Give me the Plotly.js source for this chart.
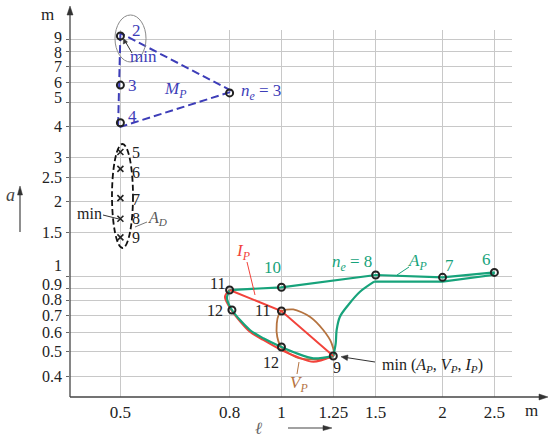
<!DOCTYPE html>
<html><head><meta charset="utf-8">
<script src="https://cdn.plot.ly/plotly-3.0.1.min.js"></script>
<style>html,body{margin:0;padding:0;background:#fff}#chart{width:550px;height:442px}</style>
</head><body><div id="chart"></div>
<script>
// ---------- data ----------
const xTickVals = [0.5, 0.8, 1, 1.25, 1.5, 2, 2.5];
const xTickText = ['0.5', '0.8', '1', '1.25', '1.5', '2', '2.5'];
const yTickVals = [0.4, 0.5, 0.6, 0.7, 0.8, 0.9, 1, 1.5, 2, 2.5, 3, 4, 5, 6, 7, 8, 9];
const yTickText = ['0.4', '0.5', '0.6', '0.7', '0.8', '0.9', '1', '1.5', '2', '2.5', '3', '4', '5', '6', '7', '8', '9'];

// M_P region (blue dashed outline) and its points
const mpOutlineX = [0.5, 0.495, 0.81, 0.5];
const mpOutlineY = [9.5, 3.97, 5.55, 9.5];
const mpPointX = [0.5, 0.5, 0.5, 0.8];
const mpPointY = [9.25, 5.88, 4.15, 5.47];

// A_D points (crosses)
const adPointX = [0.5, 0.5, 0.5, 0.5, 0.5];
const adPointY = [3.17, 2.71, 2.07, 1.71, 1.44];

// A_P (green) loop
const apUpperX = [0.8, 1.0, 1.5, 2.0, 2.5, 2.48, 2.0, 1.49];
const apUpperY = [0.885, 0.908, 1.017, 0.995, 1.042, 1.017, 0.956, 0.956];
const apDropX = [1.49, 1.402, 1.333, 1.286, 1.268, 1.263, 1.25];
const apDropY = [0.956, 0.871, 0.771, 0.692, 0.612, 0.541, 0.481];
const apLowerX = [1.25, 1.147, 1.068, 1.0, 0.925, 0.873, 0.808, 0.791, 0.8];
const apLowerY = [0.481, 0.471, 0.493, 0.523, 0.567, 0.612, 0.736, 0.822, 0.885];

// I_P (red) loop
const ipUpperX = [0.8, 1.0, 1.25];
const ipUpperY = [0.885, 0.729, 0.481];
const ipLowerX = [1.25, 1.147, 1.068, 1.0, 0.925, 0.873, 0.808, 0.784, 0.8];
const ipLowerY = [0.481, 0.456, 0.478, 0.508, 0.558, 0.602, 0.73, 0.832, 0.885];

// V_P (brown) loop
const vpX = [1.0, 1.052, 1.13, 1.197, 1.241, 1.25, 1.083, 1.0, 0.982, 0.98, 0.988, 1.0];
const vpY = [0.729, 0.74, 0.692, 0.612, 0.541, 0.481, 0.471, 0.521, 0.575, 0.651, 0.703, 0.729];

// numbered points of the lower group
const bgPointX = [0.8, 1.0, 1.5, 2.0, 2.5, 0.808, 1.0, 1.0, 1.25];
const bgPointY = [0.885, 0.908, 1.017, 0.995, 1.042, 0.736, 0.729, 0.523, 0.481];

// ---------- styling / geometry ----------
const SERIF = 'Liberation Serif';
const BLUE = '#3d3db8', GREEN = '#17a37b', RED = '#f2433b', BROWN = '#b5733f', INK = '#222';
const L = 70, R = 512, T = 30, B = 397;
const PX = x => (x - L) / (R - L);
const PY = y => (B - y) / (B - T);

const traces = [
  {x: mpOutlineX, y: mpOutlineY, mode: 'lines', line: {color: BLUE, width: 2, dash: '8px,4px'}},
  {x: vpX, y: vpY, mode: 'lines', line: {color: BROWN, width: 1.8, shape: 'spline', smoothing: 0.8}},
  {x: apUpperX, y: apUpperY, mode: 'lines', line: {color: GREEN, width: 2.2}},
  {x: apDropX, y: apDropY, mode: 'lines', line: {color: GREEN, width: 2.2, shape: 'spline', smoothing: 0.8}},
  {x: ipLowerX, y: ipLowerY, mode: 'lines', line: {color: RED, width: 2, shape: 'spline', smoothing: 0.8}},
  {x: apLowerX, y: apLowerY, mode: 'lines', line: {color: GREEN, width: 2.2, shape: 'spline', smoothing: 0.8}},
  {x: ipUpperX, y: ipUpperY, mode: 'lines', line: {color: RED, width: 2}},
  {x: mpPointX, y: mpPointY, mode: 'markers', marker: {symbol: 'circle-open', size: 7, color: INK, line: {width: 2, color: INK}}},
  {x: bgPointX, y: bgPointY, mode: 'markers', marker: {symbol: 'circle-open', size: 7, color: INK, line: {width: 2, color: INK}}},
  {x: adPointX, y: adPointY, mode: 'markers', marker: {symbol: 'x-thin-open', size: 6, color: INK, line: {width: 1.6, color: INK}}}
];

function txt(text, x, y, color, size, extra) {
  return Object.assign({text: text, xref: 'paper', yref: 'paper', x: PX(x), y: PY(y),
    showarrow: false, xanchor: 'center', yanchor: 'middle',
    font: {family: SERIF, size: size || 15, color: color || INK}}, extra || {});
}

const yShift = {'5': 5, '1': 11, '0.9': 4, '0.8': 1, '9': 2, '8': -1};
const annotations = [];
yTickVals.forEach((v, i) => {
  annotations.push({text: yTickText[i], xref: 'paper', yref: 'y', x: PX(64), y: Math.log10(v),
    xanchor: 'right', yanchor: 'middle', yshift: yShift[yTickText[i]] || 0, showarrow: false,
    font: {family: SERIF, size: 16, color: INK}});
});

annotations.push(
  txt('m', 47, 15, INK, 17),
  txt('m', 531, 411, INK, 17),
  txt('<i>a</i>', 10, 195, '#444', 18),
  txt('<i>ℓ</i>', 258, 428, '#666', 17),
  // M_P group
  txt('2', 136, 30, BLUE, 17),
  txt('min', 143, 57, BLUE, 17),
  txt('3', 132, 85, BLUE, 17),
  txt('4', 132, 117, BLUE, 17),
  txt('<i>M<sub>P</sub></i>', 175, 90, BLUE, 17),
  txt('<i>n<sub>e</sub></i> = 3', 261, 92, BLUE, 17),
  // A_D group
  txt('5', 136, 152, INK, 16),
  txt('6', 136, 172, INK, 16),
  txt('7', 136, 200, INK, 16),
  txt('8', 136, 218, INK, 16),
  txt('9', 136, 237, INK, 16),
  txt('<i>A<sub>D</sub></i>', 157, 218, '#555', 16),
  txt('min', 89, 213, INK, 16),
  // lower group
  txt('<i>I<sub>P</sub></i>', 243, 252, RED, 17),
  txt('10', 272, 267, GREEN, 17),
  txt('<i>n<sub>e</sub></i> = 8', 352, 263, GREEN, 17),
  txt('<i>A<sub>P</sub></i>', 417, 262, GREEN, 17),
  txt('7', 449, 265, GREEN, 17),
  txt('6', 486, 259, GREEN, 17),
  txt('11', 217, 283, INK, 16),
  txt('12', 215, 310, INK, 16),
  txt('11', 262, 310, INK, 16),
  txt('12', 271, 362, INK, 16),
  txt('9', 337, 367, INK, 16),
  txt('min (<i>A<sub>P</sub></i>, <i>V<sub>P</sub></i>, <i>I<sub>P</sub></i>)', 432, 365, INK, 16),
  txt('<i>V<sub>P</sub></i>', 299, 384, BROWN, 17)
);

function line(x0, y0, x1, y1, color, width, dash) {
  return {type: 'line', xref: 'paper', yref: 'paper', x0: PX(x0), y0: PY(y0), x1: PX(x1), y1: PY(y1),
    line: {color: color, width: width || 1, dash: dash || 'solid'}};
}
function tri(pts, color) {
  const d = 'M ' + pts.map(p => PX(p[0]) + ' ' + PY(p[1])).join(' L ') + ' Z';
  return {type: 'path', xref: 'paper', yref: 'paper', path: d, fillcolor: color, line: {color: color, width: 0.5}};
}

const shapes = [
  // axes with arrow heads
  line(70, 397, 541, 397, '#444', 1.3),
  tri([[548, 397], [539, 394], [539, 400]], '#333'),
  line(70, 397, 70, 14, '#444', 1.3),
  tri([[70, 6], [67, 15], [73, 15]], '#333'),
  // axis-name arrows
  line(20, 232, 20, 193, '#444', 1.2),
  tri([[20, 186], [17.5, 195], [22.5, 195]], '#333'),
  line(288, 428, 325, 428, '#444', 1.2),
  tri([[332, 428], [323, 425.5], [323, 430.5]], '#333'),
  // ellipse around point 2
  {type: 'circle', xref: 'paper', yref: 'paper', x0: PX(115), x1: PX(146), y0: PY(62), y1: PY(15), line: {color: '#8a8a8a', width: 1}},
  // A_D dashed ellipse
  {type: 'circle', xref: 'paper', yref: 'paper', x0: PX(112), x1: PX(133), y0: PY(248), y1: PY(144), line: {color: '#111', width: 1.8, dash: '6px,3px'}},
  // pointer "min" -> point 2
  line(132, 53, 125, 41, '#333', 1),
  tri([[123.5, 38.5], [123.3, 44], [127.5, 42]], '#333'),
  // pointer "min (A_P, V_P, I_P)" -> point 9
  line(375, 362, 346, 357.5, '#333', 1),
  tri([[341, 356.7], [348, 355], [347.3, 360.5]], '#333'),
  // leaders
  line(135, 227, 147, 222, '#777', 1),
  line(103, 215, 119, 219, '#333', 1),
  line(247, 262, 255, 295, RED, 1),
  line(409, 267, 397, 275, GREEN, 1),
  line(299, 362, 297, 374, BROWN, 1)
];

const layout = {
  width: 550, height: 442,
  margin: {l: L, r: 550 - R, t: T, b: 442 - B, pad: 0},
  paper_bgcolor: '#fff', plot_bgcolor: '#fff',
  showlegend: false, hovermode: false,
  xaxis: {type: 'log', range: [Math.log10(0.4025), Math.log10(2.697)], tickvals: xTickVals, ticktext: xTickText,
    ticks: '', ticklabelstandoff: 3, showgrid: true, gridcolor: '#c8c8c8', gridwidth: 1, showline: false, zeroline: false,
    tickfont: {family: SERIF, size: 17, color: INK}, fixedrange: true},
  yaxis: {type: 'log', range: [Math.log10(0.3295), Math.log10(9.78)], tickvals: yTickVals,
    showticklabels: false, ticks: 'outside', ticklen: 3, tickcolor: '#666',
    showgrid: true, gridcolor: '#c8c8c8', gridwidth: 1, showline: false, zeroline: false, fixedrange: true},
  annotations: annotations,
  shapes: shapes
};

Plotly.newPlot('chart', traces, layout, {staticPlot: true, displayModeBar: false});
</script>
</body></html>
